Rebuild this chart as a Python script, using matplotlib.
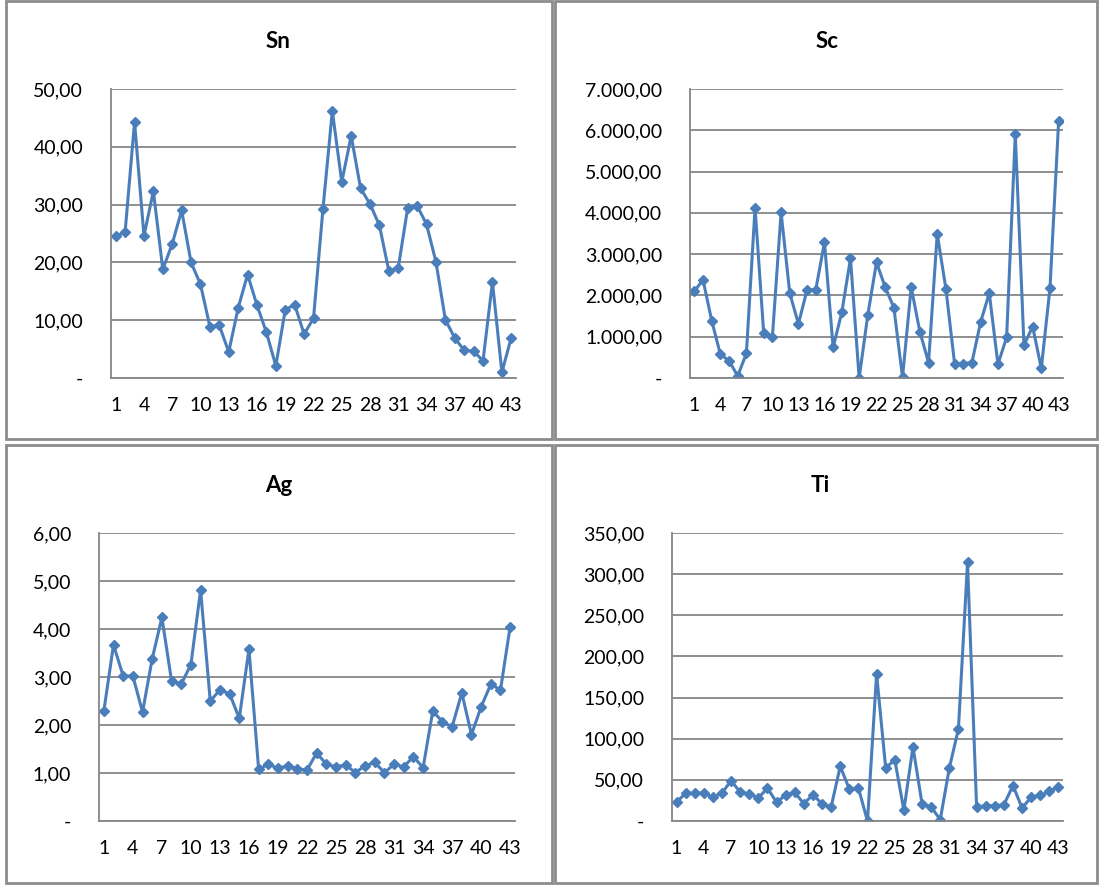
import matplotlib
matplotlib.use("Agg")
import matplotlib.pyplot as plt
from matplotlib.patches import Rectangle
from matplotlib.ticker import FuncFormatter

plt.rcParams['font.family'] = ['Lato', 'DejaVu Sans']

# sample number 1..43
samples = list(range(1, 44))

sn = [24.5, 25.3, 44.3, 24.6, 32.3, 18.8, 23.2, 29.0, 20.0, 16.2,
      8.9, 9.1, 4.5, 12.1, 17.9, 12.6, 7.9, 2.1, 11.8, 12.7,
      7.6, 10.3, 29.2, 46.2, 33.9, 41.9, 32.8, 30.1, 26.4, 18.5,
      19.1, 29.4, 29.8, 26.6, 20.1, 10.1, 6.9, 4.8, 4.6, 3.0,
      16.6, 1.0, 7.0]

sc = [2100, 2380, 1390, 577, 415, 50, 594, 4120, 1080, 1000,
      4010, 2057, 1310, 2140, 2140, 3285, 740, 1590, 2895, 0,
      1530, 2800, 2200, 1707, 16, 2200, 1120, 374, 3490, 2160,
      350, 350, 374, 1350, 2057, 333, 984, 5910, 797, 1244,
      236, 2180, 6236]

ag = [2.29, 3.67, 3.02, 3.02, 2.27, 3.38, 4.24, 2.92, 2.85, 3.26,
      4.81, 2.50, 2.73, 2.65, 2.14, 3.58, 1.08, 1.18, 1.10, 1.15,
      1.09, 1.06, 1.42, 1.18, 1.13, 1.17, 1.01, 1.15, 1.22, 1.01,
      1.18, 1.13, 1.34, 1.11, 2.29, 2.07, 1.96, 2.67, 1.80, 2.38,
      2.85, 2.73, 4.05]

ti = [22.7, 34, 34, 34, 28.8, 34, 49, 35, 33, 28,
      40, 22.7, 31.6, 34.8, 21, 32, 20.7, 17, 66.4, 38.9,
      40, 0, 178.6, 64.4, 74.5, 13, 90, 20.7, 17, 1.6,
      64.4, 111.8, 314.3, 17, 18.6, 18.6, 19.8, 43, 15.8, 29,
      31, 36, 41.3]

W, H = 1099, 885
LINE = '#4a7ebb'
GRID = '#868686'


def excel_fmt(v, pos):
    if abs(v) < 1e-9:
        return '-'
    s = f'{v:,.2f}'
    return s.replace(',', 'X').replace('.', ',').replace('X', '.')


# panel: (name, data, ymax, ystep, panel box px, axes box px, title xy px)
panels = [
    ('Sn', sn, 50, 10, (6, 1, 546, 438), (111, 89, 516, 378), (278, 41)),
    ('Sc', sc, 7000, 1000, (555, 1, 542, 438), (690, 89, 1063, 378), (827, 41)),
    ('Ag', ag, 6, 1, (6, 445, 546, 438), (99, 533, 515, 821), (279, 486)),
    ('Ti', ti, 350, 50, (555, 445, 542, 438), (672, 533, 1063, 821), (820, 486)),
]

fig = plt.figure(figsize=(W / 100, H / 100), dpi=100)

for name, data, ymax, ystep, box, ax_box, txy in panels:
    bx, by, bw, bh = box
    fig.patches.append(Rectangle((bx / W, 1 - (by + bh) / H), bw / W, bh / H,
                                 transform=fig.transFigure, fill=False,
                                 edgecolor='#8c8c8c', linewidth=2.0))
    l, t, r, b = ax_box
    ax = fig.add_axes([l / W, 1 - b / H, (r - l) / W, (b - t) / H])
    ax.plot(samples, data, color=LINE, linewidth=2.2, marker='D',
            markersize=5.5, markerfacecolor=LINE, markeredgecolor=LINE)
    ax.set_xlim(0.5, 43.5)
    ax.set_ylim(0, ymax)
    ax.set_yticks([ystep * i for i in range(int(round(ymax / ystep)) + 1)])
    ax.yaxis.set_major_formatter(FuncFormatter(excel_fmt))
    ax.set_xticks(samples[::3])
    ax.set_xticklabels([str(s) for s in samples[::3]])
    ax.grid(axis='y', color=GRID, linewidth=1.3)
    ax.set_axisbelow(True)
    for side in ['top', 'right']:
        ax.spines[side].set_visible(False)
    for side in ['left', 'bottom']:
        ax.spines[side].set_color(GRID)
        ax.spines[side].set_linewidth(1.3)
    ax.tick_params(axis='both', length=0, labelsize=14, colors='black')
    ax.tick_params(axis='x', pad=14)
    ax.tick_params(axis='y', pad=20)
    fig.text(txy[0] / W, 1 - txy[1] / H, name, fontsize=16, fontweight='bold',
             ha='center', va='center')

fig.savefig('out.png', dpi=100, facecolor='white')
